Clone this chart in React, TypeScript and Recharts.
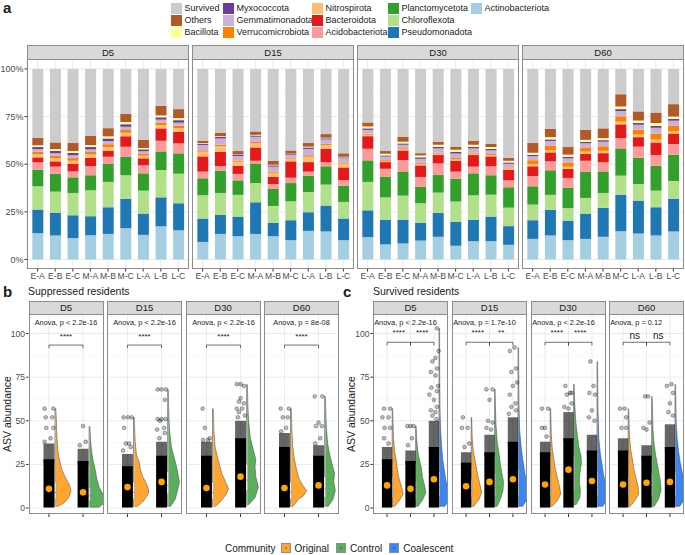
import React from 'react';
import { BarChart, Bar, ComposedChart, Scatter, XAxis, YAxis, CartesianGrid } from 'recharts';

const FONT = '"Liberation Sans", Arial, Helvetica, sans-serif';

const days = ['D5', 'D15', 'D30', 'D60'];
const sites = ['E-A', 'E-B', 'E-C', 'M-A', 'M-B', 'M-C', 'L-A', 'L-B', 'L-C'];

// relative abundance (%), 9 sites per day in order D5 | D15 | D30 | D60
const actinobacteriota = [
  13.8, 12.6, 11.2, 12.7, 13.4, 16.4, 12.9, 17.4, 15.3,
  9.2, 13.4, 12.2, 13.4, 12.2, 10.1, 15.0, 14.7, 10.1,
  11.7, 7.9, 8.4, 9.9, 11.9, 7.2, 9.6, 9.6, 7.7,
  10.8, 12.6, 10.1, 10.8, 11.9, 14.8, 13.6, 12.6, 14.7,
];
const pseudomonadota = [
  12.4, 12.0, 12.0, 10.0, 14.0, 15.5, 11.2, 15.2, 14.2,
  12.3, 10.0, 10.3, 16.6, 7.0, 10.5, 9.8, 13.6, 11.4,
  14.1, 13.0, 12.5, 9.3, 12.5, 12.5, 11.2, 12.9, 9.8,
  9.8, 13.4, 10.3, 13.3, 15.2, 19.2, 17.3, 14.8, 17.2,
];
const chloroflexota = [
  12.2, 11.0, 11.7, 13.6, 13.3, 12.3, 12.0, 14.3, 15.5,
  12.2, 11.5, 11.4, 10.1, 8.9, 9.9, 10.6, 11.0, 8.7,
  14.9, 11.7, 12.6, 10.3, 10.7, 10.7, 12.9, 11.5, 9.7,
  8.2, 7.9, 6.6, 8.2, 7.8, 10.0, 8.7, 8.7, 9.3,
];
const planctomycetota = [
  8.7, 9.3, 8.2, 7.9, 9.4, 9.9, 9.1, 9.8, 10.7,
  8.9, 11.7, 7.6, 10.3, 8.9, 9.6, 8.6, 9.6, 8.5,
  11.3, 10.7, 12.7, 8.7, 9.2, 12.0, 11.5, 10.2, 10.7,
  9.6, 12.9, 10.7, 13.8, 11.3, 14.3, 13.8, 13.1, 13.8,
];
const acidobacteriota = [
  3.9, 3.8, 3.1, 4.8, 3.8, 5.1, 4.2, 5.6, 5.2,
  3.5, 2.4, 3.4, 1.4, 2.6, 2.8, 2.1, 2.1, 3.0,
  6.1, 4.3, 6.0, 5.1, 6.1, 3.7, 3.5, 4.7, 3.6,
  5.4, 4.7, 5.1, 5.7, 4.8, 5.4, 5.8, 5.6, 5.6,
];
const bacteroidota = [
  2.6, 2.8, 3.9, 4.4, 3.2, 5.4, 3.7, 6.5, 6.1,
  8.0, 7.5, 4.3, 7.0, 3.7, 8.6, 5.0, 7.1, 6.6,
  6.6, 3.5, 5.0, 6.1, 4.4, 5.7, 6.1, 5.2, 5.6,
  5.1, 4.7, 4.7, 3.7, 4.8, 7.2, 5.0, 6.6, 5.5,
];
const nitrospirota = [
  1.6, 1.6, 1.7, 1.7, 1.9, 1.9, 1.4, 1.7, 1.8,
  2.5, 2.9, 2.1, 2.3, 2.2, 1.4, 2.8, 2.0, 2.0,
  0.8, 0.7, 0.7, 0.8, 0.8, 0.9, 0.8, 0.7, 0.7,
  1.1, 1.2, 1.1, 1.1, 1.2, 1.4, 1.3, 1.5, 1.3,
];
const verrucomicrobiota = [
  1.3, 1.3, 1.4, 1.3, 1.5, 1.5, 1.1, 1.4, 1.4,
  0.7, 0.8, 0.6, 0.7, 0.6, 0.4, 0.8, 0.6, 0.6,
  0.5, 0.4, 0.5, 0.5, 0.5, 0.6, 0.5, 0.5, 0.5,
  2.1, 2.4, 2.3, 2.2, 2.4, 2.8, 2.6, 3.1, 2.7,
];
const gemmatimonadota = [
  1.4, 1.4, 1.5, 1.4, 1.6, 1.6, 1.2, 1.5, 1.6,
  2.8, 3.3, 2.4, 2.6, 2.6, 1.6, 3.3, 2.3, 2.2,
  2.0, 1.8, 1.8, 2.1, 2.2, 2.3, 2.2, 2.0, 1.9,
  2.1, 2.4, 2.2, 2.2, 2.4, 2.8, 2.6, 3.1, 2.7,
];
const myxococcota = [
  1.1, 1.2, 1.2, 1.2, 1.4, 1.4, 1.0, 1.2, 1.3,
  0.7, 0.8, 0.6, 0.7, 0.7, 0.4, 0.8, 0.6, 0.5,
  0.8, 0.6, 0.7, 0.8, 0.8, 0.9, 0.8, 0.7, 0.7,
  0.7, 0.8, 0.8, 0.7, 0.8, 1.0, 0.9, 1.0, 0.9,
];
const bacillota = [
  0.9, 0.9, 1.0, 1.0, 1.1, 1.1, 0.7, 1.0, 1.1,
  0.3, 0.4, 0.2, 0.3, 0.3, 0.2, 0.4, 0.3, 0.3,
  1.0, 0.9, 0.9, 1.0, 1.1, 1.1, 1.1, 1.0, 0.9,
  1.1, 1.2, 1.1, 1.1, 1.1, 1.4, 1.3, 1.5, 1.3,
];
const others = [
  4.0, 3.5, 4.2, 4.9, 4.3, 4.2, 4.3, 5.0, 4.7,
  1.2, 1.8, 1.8, 1.8, 2.0, 1.7, 1.9, 1.9, 1.8,
  2.1, 1.4, 2.6, 1.2, 1.6, 1.6, 2.1, 1.6, 1.6,
  5.1, 4.4, 4.0, 5.3, 5.1, 6.4, 4.8, 5.5, 6.5,
];
const survived = [
  36.1, 38.6, 38.9, 35.1, 31.1, 23.7, 37.2, 19.4, 21.1,
  37.7, 33.5, 43.1, 32.8, 48.3, 42.8, 38.9, 34.2, 44.3,
  28.1, 43.1, 35.6, 44.2, 38.2, 40.8, 37.7, 39.4, 46.6,
  38.9, 31.4, 41.0, 31.9, 31.2, 13.3, 22.3, 22.9, 18.5,
];

// stacking order, bottom to top
const phyla = [
  { key: 'Actinobacteriota', color: '#A6CEE3', values: actinobacteriota },
  { key: 'Pseudomonadota', color: '#1F78B4', values: pseudomonadota },
  { key: 'Chloroflexota', color: '#B2DF8A', values: chloroflexota },
  { key: 'Planctomycetota', color: '#33A02C', values: planctomycetota },
  { key: 'Acidobacteriota', color: '#FB9A99', values: acidobacteriota },
  { key: 'Bacteroidota', color: '#E31A1C', values: bacteroidota },
  { key: 'Nitrospirota', color: '#FDBF6F', values: nitrospirota },
  { key: 'Verrucomicrobiota', color: '#FF7F00', values: verrucomicrobiota },
  { key: 'Gemmatimonadota', color: '#CAB2D6', values: gemmatimonadota },
  { key: 'Myxococcota', color: '#6A3D9A', values: myxococcota },
  { key: 'Bacillota', color: '#FFFF99', values: bacillota },
  { key: 'Others', color: '#B15928', values: others },
  { key: 'Survived', color: '#CCCCCC', values: survived },
];

const legendColumns = [
  ['Survived', 'Others', 'Bacillota'],
  ['Myxococcota', 'Gemmatimonadota', 'Verrucomicrobiota'],
  ['Nitrospirota', 'Bacteroidota', 'Acidobacteriota'],
  ['Planctomycetota', 'Chloroflexota', 'Pseudomonadota'],
  ['Actinobacteriota'],
];

const communities = ['Original', 'Control', 'Coalescent'];
const communityColors = ['#FFA630', '#5BAE5B', '#3A86F5'];

// ---- b: suppressed residents (Original, Control) ----
const suppressedAnova = ['Anova, p < 2.2e-16', 'Anova, p < 2.2e-16', 'Anova, p < 2.2e-16', 'Anova, p = 8e-08'];
const suppressedSignif = [['****'], ['****'], ['****'], ['****']];
const suppressedMeans = [[11, 9], [12, 15], [11.5, 18], [11.5, 13]];
const suppressedBoxes = [
  [[5, 9, 15], [4, 7, 12]],
  [[5, 9, 15], [8, 13, 21]],
  [[5, 9, 15], [10, 16, 25]],
  [[5, 9, 15], [6, 11, 18]],
];
const suppressedMax = [[57, 47], [52, 68], [57, 71], [57, 64]];
// dense jitter band top, sparse band top
const suppressedCloud = [
  [[28, 37], [27, 34]],
  [[24, 31], [30, 38]],
  [[30, 38], [40, 50]],
  [[35, 43], [30, 36]],
];
// scattered points: [jitter (-1..1), abundance]
const suppressedPoints = [
  [
    [[-0.8, 57], [0.8, 57], [-0.6, 52], [0.6, 52], [-0.5, 46], [0.8, 46], [0.3, 40], [-0.8, 38]],
    [[0, 47], [0.5, 38], [-0.6, 36]],
  ],
  [
    [[-0.7, 52], [0.1, 52], [0.8, 52], [-0.6, 46], [0.3, 37], [-0.3, 37], [0.6, 35], [-0.8, 33]],
    [[-0.7, 68], [0, 68], [0.8, 68], [0.6, 62], [-0.7, 51], [0, 51], [0.7, 51], [-0.3, 50], [0.5, 46], [-0.8, 45], [0.6, 43], [-0.4, 40]],
  ],
  [
    [[-0.7, 57], [-0.3, 46], [0.6, 40], [0.3, 39], [-0.6, 39]],
    [[-0.7, 71], [0, 71], [0.6, 70], [0, 63], [-0.3, 61], [0.6, 60], [-0.7, 57], [0.3, 57], [-0.3, 55], [0.8, 53], [-0.5, 52]],
  ],
  [
    [[-0.7, 57], [0.8, 57], [0.6, 52], [-0.3, 52], [0.3, 46], [-0.6, 44]],
    [[-0.7, 64], [0.7, 64], [0, 49], [-0.5, 47], [0.6, 47], [0.3, 40], [-0.6, 37]],
  ],
];
// half-violin outline: [abundance, relative width]
const suppressedViolins = [
  [
    [[1, 0.15], [3, 0.55], [6, 0.85], [10, 1], [14, 0.85], [18, 0.6], [22, 0.4], [27, 0.25], [32, 0.15], [40, 0.08], [50, 0.04], [57, 0]],
    [[0.5, 0.6], [3, 0.95], [5, 1], [8, 0.85], [12, 0.6], [17, 0.45], [22, 0.35], [27, 0.22], [32, 0.12], [38, 0.05], [47, 0]],
  ],
  [
    [[1, 0.2], [4, 0.6], [8, 0.9], [10, 0.95], [14, 0.8], [18, 0.55], [22, 0.4], [27, 0.3], [30, 0.15], [38, 0.06], [52, 0]],
    [[1, 0.15], [5, 0.45], [10, 0.6], [15, 0.72], [20, 0.62], [25, 0.5], [30, 0.35], [35, 0.2], [45, 0.07], [55, 0.03], [68, 0]],
  ],
  [
    [[1, 0.15], [4, 0.5], [8, 0.85], [11, 1], [15, 0.8], [20, 0.55], [25, 0.4], [30, 0.25], [35, 0.12], [45, 0.04], [57, 0]],
    [[2, 0.1], [6, 0.5], [12, 0.72], [18, 0.55], [24, 0.5], [28, 0.55], [33, 0.4], [40, 0.2], [50, 0.08], [60, 0.03], [71, 0]],
  ],
  [
    [[1, 0.1], [3, 0.3], [5, 0.45], [7, 0.8], [10, 1], [13, 0.75], [17, 0.5], [22, 0.35], [28, 0.2], [35, 0.1], [45, 0.04], [57, 0]],
    [[1, 0.2], [5, 0.5], [10, 0.65], [15, 0.55], [20, 0.6], [25, 0.45], [30, 0.3], [37, 0.15], [47, 0.06], [64, 0]],
  ],
];

// ---- c: survived residents (Original, Control, Coalescent) ----
const survivedAnova = ['Anova, p < 2.2e-16', 'Anova, p = 1.7e-10', 'Anova, p < 2.2e-16', 'Anova, p = 0.12'];
const survivedSignif = [['****', '****'], ['****', '**'], ['****', '****'], ['ns', 'ns']];
const survivedMeans = [[13, 11, 16.5], [12.5, 15, 16.5], [13.5, 22, 15.5], [13.5, 14.5, 15]];
const survivedBoxes = [
  [[6, 10, 18], [5, 9, 15], [7, 12, 21]],
  [[6, 10, 17], [7, 12, 20], [7, 13, 22]],
  [[6, 10, 19], [10, 18, 30], [7, 12, 21]],
  [[6, 10, 19], [7, 12, 20], [7, 12, 21]],
];
const survivedMax = [[57, 47, 103], [52, 68, 92], [57, 71, 84], [57, 64, 71]];
const survivedCloud = [
  [[28, 35], [27, 33], [35, 50]],
  [[26, 32], [32, 42], [38, 52]],
  [[32, 38], [40, 55], [33, 42]],
  [[33, 40], [30, 36], [35, 48]],
];
const survivedPoints = [
  [
    [[-0.6, 57], [0.6, 57], [-0.9, 52], [0.3, 52], [-0.5, 46], [0.6, 46], [-0.6, 40], [0.3, 37]],
    [[-0.6, 47], [0, 47], [0.6, 47], [0.3, 40], [-0.5, 36]],
    [[0.6, 103], [0.9, 90], [0.3, 86], [-0.3, 84], [0.6, 80], [-0.6, 78], [0.3, 76], [0.8, 70], [-0.5, 69], [0.6, 67], [-0.9, 65], [0, 62], [0.6, 58], [-0.6, 56], [0.3, 55], [-0.3, 53], [0.5, 51]],
  ],
  [
    [[-0.6, 52], [0.3, 46], [-0.8, 46], [0.6, 37], [-0.3, 35]],
    [[-0.6, 68], [0.6, 68], [0, 62], [-0.3, 50], [0.6, 49], [-0.6, 46], [0.3, 45]],
    [[0.3, 92], [-0.6, 90], [0.6, 80], [-0.3, 78], [0.8, 72], [0, 70], [-0.6, 65], [0.5, 60], [-0.3, 58], [0.6, 56], [-0.8, 54]],
  ],
  [
    [[-0.6, 57], [0.6, 57], [0, 46], [-0.6, 46], [0.3, 41]],
    [[-0.6, 70], [0.3, 66], [0.6, 66], [-0.3, 65], [0.6, 60], [-0.8, 58], [0, 57]],
    [[-0.3, 84], [0.3, 70], [-0.5, 66], [0.6, 65], [0, 56], [-0.6, 52], [0.5, 50]],
  ],
  [
    [[-0.6, 57], [0.3, 57], [0.6, 52], [-0.3, 46], [0.6, 46]],
    [[-0.3, 64], [0.3, 64], [0.6, 49], [-0.6, 46], [0, 45]],
    [[0.3, 71], [-0.6, 70], [0.6, 66], [0, 60], [-0.3, 55], [0.6, 53]],
  ],
];
const survivedViolins = [
  [
    [[1, 0.2], [4, 0.6], [8, 1], [12, 0.85], [17, 0.6], [22, 0.45], [27, 0.35], [32, 0.2], [40, 0.08], [50, 0.03], [57, 0]],
    [[1, 0.2], [5, 0.65], [9, 0.93], [13, 0.8], [18, 0.6], [23, 0.5], [28, 0.3], [33, 0.15], [40, 0.05], [47, 0]],
    [[1, 0.5], [4, 0.85], [7, 0.9], [11, 0.8], [16, 0.6], [22, 0.45], [28, 0.3], [35, 0.2], [45, 0.1], [55, 0.05], [70, 0.02], [103, 0]],
  ],
  [
    [[1, 0.2], [5, 0.7], [9, 0.95], [13, 0.8], [18, 0.6], [23, 0.45], [28, 0.3], [33, 0.15], [40, 0.05], [52, 0]],
    [[1, 0.2], [5, 0.5], [10, 0.75], [15, 0.8], [20, 0.65], [25, 0.5], [30, 0.4], [38, 0.2], [48, 0.08], [58, 0.03], [68, 0]],
    [[1, 0.4], [5, 0.8], [10, 0.85], [15, 0.75], [20, 0.6], [28, 0.4], [35, 0.25], [45, 0.1], [60, 0.04], [75, 0.02], [92, 0]],
  ],
  [
    [[1, 0.15], [4, 0.6], [8, 0.95], [12, 0.85], [17, 0.65], [22, 0.45], [28, 0.3], [34, 0.15], [42, 0.06], [57, 0]],
    [[2, 0.2], [6, 0.55], [10, 0.6], [15, 0.5], [20, 0.55], [26, 0.7], [30, 0.65], [35, 0.45], [42, 0.3], [50, 0.15], [60, 0.06], [71, 0]],
    [[1, 0.5], [5, 0.9], [10, 0.85], [15, 0.7], [20, 0.55], [26, 0.4], [32, 0.25], [40, 0.12], [55, 0.05], [70, 0.02], [84, 0]],
  ],
  [
    [[1, 0.15], [4, 0.55], [8, 0.95], [12, 0.9], [17, 0.7], [22, 0.5], [28, 0.35], [34, 0.18], [42, 0.07], [57, 0]],
    [[1, 0.2], [5, 0.6], [10, 0.85], [15, 0.8], [20, 0.65], [25, 0.5], [30, 0.35], [36, 0.2], [45, 0.08], [64, 0]],
    [[1, 0.4], [5, 0.85], [10, 0.9], [15, 0.8], [20, 0.65], [26, 0.45], [32, 0.3], [40, 0.15], [50, 0.06], [71, 0]],
  ],
];

const suppressed = {
  anova: suppressedAnova, signif: suppressedSignif, means: suppressedMeans, boxes: suppressedBoxes,
  maxes: suppressedMax, clouds: suppressedCloud, points: suppressedPoints, violins: suppressedViolins,
};
const survivedPanel = {
  anova: survivedAnova, signif: survivedSignif, means: survivedMeans, boxes: survivedBoxes,
  maxes: survivedMax, clouds: survivedCloud, points: survivedPoints, violins: survivedViolins,
};

// layout
const A_LEFT = [27, 192, 357, 522];
const A_W = 162;
const A_STRIP = 45;
const A_TOP = 59;
const A_H = 210;
const B_LEFT = [28.5, 107, 185.5, 264];
const C_LEFT = [373, 452, 530.5, 609];
const R_W = 75;
const R_STRIP = 300.5;
const R_TOP = 313.5;
const R_H = 200;
const BORDER = '#8c8c8c';

const Empty = () => <g />;

const Strip = ({ left, top, width, height, label }) => (
  <div style={{
    position: 'absolute', left, top, width, height, boxSizing: 'border-box', background: '#D9D9D9',
    border: `1px solid ${BORDER}`, fontSize: 9.5, lineHeight: `${height - 2}px`, textAlign: 'center', color: '#1a1a1a',
  }}>{label}</div>
);

const Frame = ({ left, top, width, height }) => (
  <div style={{
    position: 'absolute', left, top, width, height, boxSizing: 'border-box',
    border: `1px solid ${BORDER}`, pointerEvents: 'none', zIndex: 2,
  }} />
);

function BarFacet({ d }) {
  const showAxis = d === 0;
  const axisW = showAxis ? 27 : 0;
  const data = sites.map((site, i) => {
    const row = { site };
    phyla.forEach((p) => { row[p.key] = p.values[d * 9 + i]; });
    return row;
  });
  return (
    <div style={{ position: 'absolute', left: A_LEFT[d] - axisW, top: A_TOP }}>
      <BarChart width={A_W + axisW} height={A_H + 16} data={data} margin={{ top: 0, right: 0, bottom: 0, left: 0 }} barCategoryGap="20%">
        <CartesianGrid horizontalValues={[12.5, 37.5, 62.5, 87.5]} vertical={false} stroke="#f4f4f4" strokeWidth={0.6} />
        <CartesianGrid horizontalValues={[0, 25, 50, 75, 100]} stroke="#ebebeb" />
        <XAxis dataKey="site" interval={0} padding={{ left: 1.8, right: 1.8 }} height={16} axisLine={false}
          tickSize={2.5} tickMargin={1} tickLine={{ stroke: '#333' }} tick={{ fontSize: 8.6, fill: '#4d4d4d', fontFamily: FONT }} />
        <YAxis type="number" domain={[-5, 105.2]} ticks={[0, 25, 50, 75, 100]} allowDataOverflow hide={!showAxis} width={axisW || 27}
          tickFormatter={(v) => `${v}%`} axisLine={false} tickSize={2.5} tickMargin={1} tickLine={{ stroke: '#333' }}
          tick={{ fontSize: 9, fill: '#4d4d4d', fontFamily: FONT }} />
        {phyla.map((p) => (
          <Bar key={p.key} dataKey={p.key} stackId="s" fill={p.color} isAnimationActive={false} />
        ))}
      </BarChart>
    </div>
  );
}

function RainFacet({ panel, d, left, axisW, half, boxL, boxR, base, bracketY, labelY, anovaLeft }) {
  const n = panel.means[d].length;
  const xs = panel.means[d].map((_, i) => i + 1);
  const poly = (pts, fill, stroke, sw, key) => (
    <Scatter key={key} data={pts} shape={Empty} isAnimationActive={false}
      line={{ fill, stroke, strokeWidth: sw }} />
  );
  const items = [];
  xs.forEach((c, i) => {
    const prof = panel.violins[d][i];
    const vpts = [{ x: c + base, y: prof[0][0] }, ...prof.map(([y, w]) => ({ x: c + base + w * 0.45, y }))];
    items.push(poly(vpts, communityColors[i], '#444', 0.5, `v${i}`));
  });
  xs.forEach((c, i) => {
    const [q1, med, q3] = panel.boxes[d][i];
    const wx = (boxL + boxR) / 2;
    items.push(poly([{ x: c + wx, y: 0.8 }, { x: c + wx, y: panel.maxes[d][i] }], 'none', '#555', 0.7, `w${i}`));
    items.push(poly([{ x: c + boxL, y: q1 }, { x: c + boxR, y: q1 }, { x: c + boxR, y: q3 }, { x: c + boxL, y: q3 }, { x: c + boxL, y: q1 }], '#f2f2f2', '#888', 0.5, `b${i}`));
    items.push(poly([{ x: c + boxL, y: med }, { x: c + boxR, y: med }], 'none', '#777', 0.6, `m${i}`));
  });
  xs.forEach((c, i) => {
    const [dense, sparse] = panel.clouds[d][i];
    items.push(poly([{ x: c - half, y: dense - 2 }, { x: c + half, y: dense - 2 }, { x: c + half, y: sparse }, { x: c - half, y: sparse }], 'rgba(0,0,0,0.6)', 'none', 0, `cf${i}`));
    items.push(poly([{ x: c - half, y: 0.3 }, { x: c + half, y: 0.3 }, { x: c + half, y: dense }, { x: c - half, y: dense }], '#000', 'none', 0, `cd${i}`));
    const pts = panel.points[d][i].map(([j, y]) => ({ x: c + j * half, y }));
    items.push(
      <Scatter key={`p${i}`} data={pts} isAnimationActive={false}
        shape={(p) => <circle cx={p.cx} cy={p.cy} r={1.9} fill="rgba(0,0,0,0.25)" stroke="rgba(0,0,0,0.6)" strokeWidth={0.5} />} />
    );
  });
  items.push(
    <Scatter key="mean" data={xs.map((c, i) => ({ x: c, y: panel.means[d][i] }))} isAnimationActive={false}
      shape={(p) => <circle cx={p.cx} cy={p.cy} r={3.3} fill="#FFA500" />} />
  );
  panel.signif[d].forEach((lab, k) => {
    const a = k + 1;
    const b = n === 2 ? 2 : k + 2;
    items.push(poly([{ x: a, y: bracketY - 1.8 }, { x: a, y: bracketY }, { x: b, y: bracketY }, { x: b, y: bracketY - 1.8 }], 'none', '#333', 0.7, `br${k}`));
  });
  const texts = [
    { x: anovaLeft ? 0.45 : (n + 1) / 2, y: 106.2, label: panel.anova[d], size: 7.4, anchor: anovaLeft ? 'start' : 'middle' },
    ...panel.signif[d].map((lab, k) => ({
      x: n === 2 ? 1.5 : k + 1.5,
      y: lab === 'ns' ? labelY - 1.5 : labelY,
      label: lab,
      size: lab === 'ns' ? 10 : 8,
      anchor: 'middle',
    })),
  ];
  items.push(
    <Scatter key="txt" data={texts} isAnimationActive={false}
      shape={(p) => (
        <text x={p.cx} y={p.cy} textAnchor={p.payload.anchor} dominantBaseline="central" fontSize={p.payload.size}
          fontFamily={FONT} fill="#1a1a1a">{p.payload.label}</text>
      )} />
  );
  return (
    <div style={{ position: 'absolute', left: left - axisW, top: R_TOP }}>
      <ComposedChart width={R_W + axisW} height={R_H + 6} margin={{ top: 0, right: 0, bottom: 0, left: 0 }}>
        <CartesianGrid horizontalValues={[12.5, 37.5, 62.5, 87.5]} vertical={false} stroke="#f4f4f4" strokeWidth={0.6} />
        <CartesianGrid horizontalValues={[0, 25, 50, 75, 100]} verticalValues={xs} stroke="#ebebeb" />
        <XAxis type="number" dataKey="x" domain={[0.4, n + 0.6]} ticks={xs} interval={0} allowDataOverflow
          tickFormatter={() => ''} tickSize={3} tickLine={{ stroke: '#333' }} axisLine={false} height={6} />
        <YAxis type="number" dataKey="y" domain={[-3.4, 111.2]} ticks={[0, 25, 50, 75, 100]} interval={0} allowDataOverflow
          hide={axisW === 0} width={axisW || 30} axisLine={false} tickSize={2.5} tickMargin={1} tickLine={{ stroke: '#333' }}
          tick={{ fontSize: 8.6, fill: '#4d4d4d', fontFamily: FONT }} />
        {items}
      </ComposedChart>
    </div>
  );
}

const AxisTitle = ({ x, y, label }) => (
  <div style={{
    position: 'absolute', left: x - 60, top: y - 7, width: 120, height: 14, lineHeight: '14px', textAlign: 'center',
    transform: 'rotate(-90deg)', fontSize: 10.5, color: '#1a1a1a',
  }}>{label}</div>
);

const Tag = ({ x, y, label }) => (
  <div style={{ position: 'absolute', left: x, top: y, fontSize: 15, fontWeight: 'bold', lineHeight: '15px' }}>{label}</div>
);

export default function App() {
  const legendX = [171, 223, 312, 388, 471];
  const colorOf = (k) => phyla.find((p) => p.key === k).color;
  return (
    <div style={{ position: 'absolute', left: 0, top: 0, width: 685, height: 555, background: '#fff', fontFamily: FONT, color: '#1a1a1a', overflow: 'hidden' }}>
      <Tag x={3} y={0} label="a" />
      {legendColumns.map((col, ci) => col.map((name, ri) => (
        <div key={name} style={{ position: 'absolute', left: legendX[ci], top: 2.5 + ri * 12, height: 11, display: 'flex', alignItems: 'center' }}>
          <div style={{ width: 11, height: 11, background: colorOf(name) }} />
          <span style={{ marginLeft: 2.5, fontSize: 9, whiteSpace: 'nowrap' }}>{name}</span>
        </div>
      )))}

      {days.map((day, d) => (
        <React.Fragment key={`a${day}`}>
          <Strip left={A_LEFT[d]} top={A_STRIP} width={A_W} height={A_TOP - A_STRIP + 1} label={day} />
          <BarFacet d={d} />
          <Frame left={A_LEFT[d]} top={A_TOP} width={A_W} height={A_H} />
        </React.Fragment>
      ))}

      <Tag x={3} y={284} label="b" />
      <div style={{ position: 'absolute', left: 28, top: 285, fontSize: 10.5 }}>Suppressed residents</div>
      <AxisTitle x={7} y={R_TOP + R_H / 2} label="ASV abundance" />
      {days.map((day, d) => (
        <React.Fragment key={`b${day}`}>
          <Strip left={B_LEFT[d]} top={R_STRIP} width={R_W} height={R_TOP - R_STRIP + 1} label={day} />
          <RainFacet panel={suppressed} d={d} left={B_LEFT[d]} axisW={d === 0 ? 28.5 : 0}
            half={0.16} boxL={0.15} boxR={0.21} base={0.2} bracketY={93.4} labelY={98.5} anovaLeft={false} />
          <Frame left={B_LEFT[d]} top={R_TOP} width={R_W} height={R_H} />
        </React.Fragment>
      ))}

      <Tag x={343} y={284} label="c" />
      <div style={{ position: 'absolute', left: 373, top: 285, fontSize: 10.5 }}>Survived residents</div>
      <AxisTitle x={351} y={R_TOP + R_H / 2} label="ASV abundance" />
      {days.map((day, d) => (
        <React.Fragment key={`c${day}`}>
          <Strip left={C_LEFT[d]} top={R_STRIP} width={R_W} height={R_TOP - R_STRIP + 1} label={day} />
          <RainFacet panel={survivedPanel} d={d} left={C_LEFT[d]} axisW={d === 0 ? 33 : 0}
            half={0.22} boxL={0.19} boxR={0.25} base={0.24} bracketY={95} labelY={100.5} anovaLeft />
          <Frame left={C_LEFT[d]} top={R_TOP} width={R_W} height={R_H} />
        </React.Fragment>
      ))}

      <div style={{ position: 'absolute', left: 225, top: 541, height: 14, display: 'flex', alignItems: 'center', fontSize: 10 }}>
        <span style={{ marginRight: 5 }}>Community</span>
        {communities.map((c, i) => (
          <React.Fragment key={c}>
            <div style={{ width: 10, height: 10, boxSizing: 'border-box', background: communityColors[i], border: '1px solid #8c8c8c', display: 'flex', alignItems: 'center', justifyContent: 'center' }}>
              <div style={{ width: 2, height: 2, borderRadius: 1, background: 'rgba(0,0,0,0.35)' }} />
            </div>
            <span style={{ marginLeft: 4, marginRight: 7 }}>{c}</span>
          </React.Fragment>
        ))}
      </div>
    </div>
  );
}
